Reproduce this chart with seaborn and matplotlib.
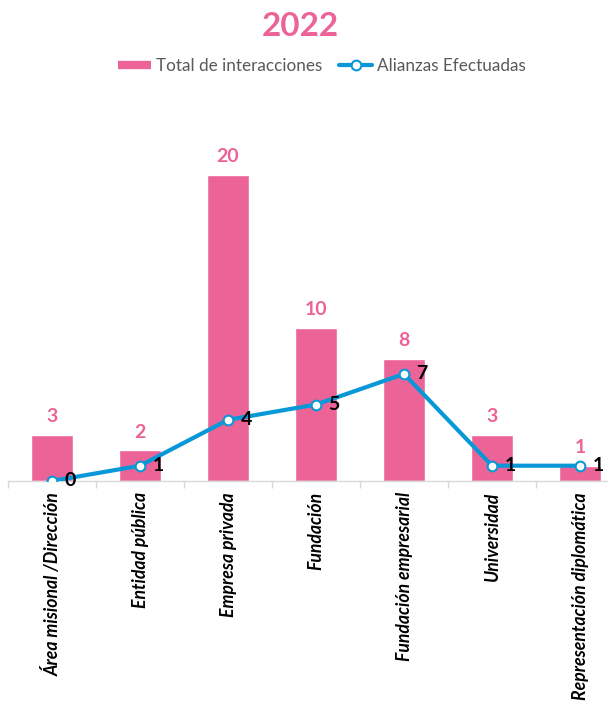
import numpy as np
import pandas as pd
import matplotlib
matplotlib.use("Agg")
import matplotlib.pyplot as plt
from matplotlib.lines import Line2D
import seaborn as sns

categories = ["Área misional /Dirección", "Entidad pública", "Empresa privada",
              "Fundación", "Fundación empresarial", "Universidad",
              "Representación diplomática"]
total_interacciones = [3, 2, 20, 10, 8, 3, 1]
alianzas_efectuadas = [0, 1, 4, 5, 7, 1, 1]

PINK = "#EC6497"
BLUE = "#0898D8"

sns.set_theme(style="white")
plt.rcParams['font.family'] = ['Lato', 'DejaVu Sans']

W, H = 608, 702
fig = plt.figure(figsize=(W / 100, H / 100), dpi=100)
ax_left, ax_right = 8, 608
ax_bottom_px, ax_top_px = 481, 114
ax = fig.add_axes([ax_left / W, (H - ax_bottom_px) / H,
                   (ax_right - ax_left) / W, (ax_bottom_px - ax_top_px) / H])

df = pd.DataFrame({"cat": categories, "total": total_interacciones,
                   "ali": alianzas_efectuadas, "pos": np.arange(len(categories))})

sns.barplot(data=df, x="cat", y="total", color=PINK, width=0.48,
            saturation=1, ax=ax, zorder=2)
sns.lineplot(data=df, x="pos", y="ali", color=BLUE, linewidth=3, sort=False,
             marker="o", markersize=7, markerfacecolor="white",
             markeredgecolor=BLUE, markeredgewidth=1.5, ax=ax, zorder=3)

ax.set_xlabel("")
ax.set_ylabel("")
ax.set_yticks([])
for s in ["top", "right", "left"]:
    ax.spines[s].set_visible(False)
ax.spines["bottom"].set_color("#D9D9D9")
ax.spines["bottom"].set_linewidth(1)

ax.set_xticks(np.arange(len(categories)))
ax.set_xticklabels(categories, rotation=90, fontsize=12.7, fontweight="bold",
                   fontstyle="italic", color="black")
ax.tick_params(axis="x", which="major", length=0, pad=8)
ax.set_xticks(np.arange(-0.5, len(categories), 1.0), minor=True)
ax.tick_params(axis="x", which="minor", length=5, color="#D9D9D9", width=1,
               direction="out", bottom=True)
ax.set_xlim(-0.5, 6.318)
ax.set_ylim(0, 24)

for i, v in enumerate(total_interacciones):
    ax.annotate(str(v), (i, v), xytext=(0, 7), textcoords="offset points",
                ha="center", va="bottom", color=PINK, fontsize=14,
                fontweight="bold")
for i, v in enumerate(alianzas_efectuadas):
    ax.annotate(str(v), (i, v), xytext=(9, 0), textcoords="offset points",
                ha="left", va="center", color="black", fontsize=14,
                fontweight="bold")

fig.text(300 / W, 1 - 27 / H, "2022", ha="center", va="center", color=PINK,
         fontsize=24, fontweight="bold")

handles = [Line2D([0], [0], color=PINK, linewidth=6, solid_capstyle="butt"),
           Line2D([0], [0], color=BLUE, linewidth=3, marker="o", markersize=7,
                  markerfacecolor="white", markeredgecolor=BLUE,
                  markeredgewidth=1.5)]
fig.legend(handles, ["Total de interacciones", "Alianzas Efectuadas"],
           loc="center", bbox_to_anchor=(322 / W, 1 - 66 / H), ncol=2,
           frameon=False, fontsize=12.3, handlelength=1.9, handletextpad=0.3,
           columnspacing=1.0, labelcolor="#595959")

fig.savefig("out.png", dpi=100)
